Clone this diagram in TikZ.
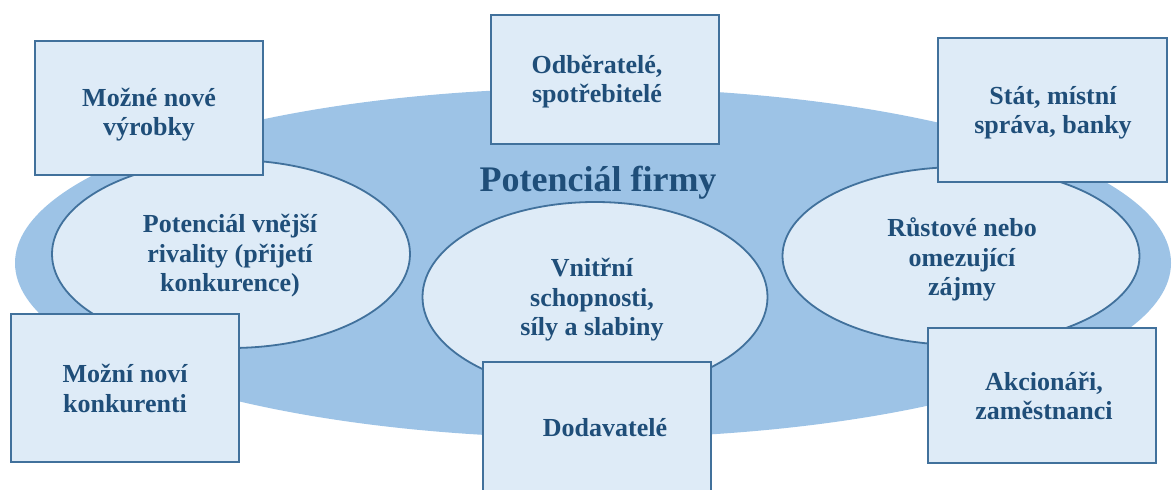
\documentclass[tikz,border=0pt]{standalone}
\usepackage{fontspec}
\setmainfont{Liberation Serif}
\usetikzlibrary{shapes.geometric}
\definecolor{txtblue}{HTML}{1F4E79}
\definecolor{edgeblue}{HTML}{41719C}
\definecolor{paleblue}{HTML}{DEEBF7}
\definecolor{midblue}{HTML}{9DC3E6}
% centred lines whose baseline is that of the first line
\newcommand\linestack[1]{\vtop{\halign{\hfil##\hfil\cr#1\crcr}}}
\tikzset{
  field/.style={ellipse, fill=midblue, draw=none, inner sep=0pt},
  area/.style={ellipse, fill=paleblue, draw=edgeblue, line width=1.8pt, inner sep=0pt},
  actor/.style={rectangle, fill=paleblue, draw=edgeblue, line width=2.2pt, inner sep=0pt,
    minimum width=228pt},
  label text/.style={anchor=base, inner sep=0pt, text=txtblue,
    font=\bfseries\fontsize{26}{29.5}\selectfont},
  heading/.style={anchor=base, inner sep=0pt, text=txtblue,
    font=\bfseries\fontsize{36}{40}\selectfont}
}
\begin{document}
\begin{tikzpicture}[x=1pt, y=-1pt]
\useasboundingbox (0,0) rectangle (1173,490);
% the firm's overall potential
\node[field, minimum width=1156pt, minimum height=350pt] (firm) at (593,263) {};
\node[heading] (title) at (598,191) {Potenciál firmy};
% three inner areas
\node[area, minimum width=358pt, minimum height=188pt] (rival) at (231,254) {};
\node[area, minimum width=345pt, minimum height=190pt] (inner) at (595,297) {};
\node[area, minimum width=357pt, minimum height=178pt] (growth) at (961,256) {};
\node[label text] (rival-t) at (230,232.7)
  {\linestack{Potenciál vnější\cr rivality (přijetí\cr konkurence)}};
\node[label text] (inner-t) at (592,276.7)
  {\linestack{Vnitřní\cr schopnosti,\cr síly a slabiny}};
\node[label text] (growth-t) at (962,236.7)
  {\linestack{Růstové nebo\cr omezující\cr zájmy}};
% surrounding actors
\node[actor, minimum height=134pt] (products) at (149,108) {};
\node[actor, minimum height=129pt] (customers) at (605,79.5) {};
\node[actor, minimum width=229pt, minimum height=144pt] (state) at (1052.5,110) {};
\node[actor, minimum height=148pt] (entrants) at (125,388) {};
\node[actor, minimum height=136pt] (suppliers) at (597,430) {};
\node[actor, minimum height=135pt] (owners) at (1042,395.5) {};
\node[label text] (products-t) at (149,106) {\linestack{Možné nové\cr výrobky}};
\node[label text] (customers-t) at (597,73.3) {\linestack{Odběratelé,\cr spotřebitelé}};
\node[label text] (state-t) at (1053,104) {\linestack{Stát, místní\cr správa, banky}};
\node[label text] (entrants-t) at (125,382.7) {\linestack{Možní noví\cr konkurenti}};
\node[label text] (suppliers-t) at (605,436.7) {Dodavatelé};
\node[label text] (owners-t) at (1044,390) {\linestack{Akcionáři,\cr zaměstnanci}};
\end{tikzpicture}
\end{document}
